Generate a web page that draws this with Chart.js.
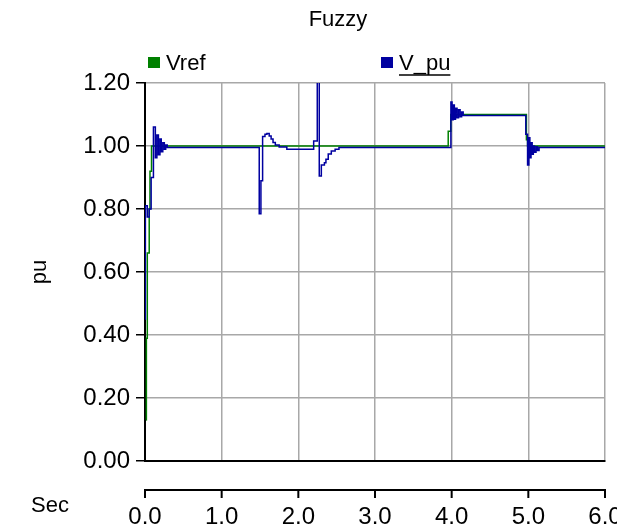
<!DOCTYPE html>
<html>
<head>
<meta charset="utf-8">
<title>Fuzzy</title>
<script src="https://cdn.jsdelivr.net/npm/chart.js@4.4.1/dist/chart.umd.min.js"></script>
<style>
    html, body { margin: 0; padding: 0; background: #fff; }
    canvas { display: block; }
</style>
</head>
<body>
<canvas id="fuzzy-chart" width="617" height="527"></canvas>
<script>
/*===============
data (time in sec, value in pu)
====================*/
const vrefTime  = [0.015, 0.018, 0.03, 0.055, 0.065, 0.085, 3.955, 3.988, 4.975, 4.99, 6.0];
const vrefValue = [0.13, 0.39, 0.66, 0.80, 0.92, 1.00, 1.047, 1.10, 1.02, 1.00, 1.00];

const vpuTime = [
    0.003, 0.005, 0.03, 0.055, 0.08, 0.11, 0.135, 0.155, 0.175, 0.195, 0.212, 0.232, 0.252, 0.27, 0.29,
    1.49, 1.512, 1.534, 1.565, 1.59, 1.62, 1.645, 1.67, 1.70, 1.75, 1.85,
    2.2, 2.247, 2.273, 2.30, 2.34, 2.36, 2.39, 2.43, 2.48, 2.53,
    3.99, 4.005, 4.02, 4.035, 4.05, 4.07, 4.09, 4.11, 4.13, 4.15,
    4.967, 4.99, 5.007, 5.02, 5.035, 5.05, 5.065, 5.08, 5.10, 5.12, 5.14, 6.0
];
const vpuValue = [
    0.45, 0.81, 0.775, 0.80, 0.90, 1.06, 0.963, 1.035, 0.972, 1.022, 0.982, 1.01, 0.99, 1.003, 0.995,
    0.785, 0.89, 1.03, 1.037, 1.04, 1.032, 1.022, 1.011, 1.003, 0.997, 0.99,
    1.016, 1.6, 0.905, 0.94, 0.947, 0.958, 0.975, 0.984, 0.99, 0.995,
    1.14, 1.083, 1.13, 1.085, 1.12, 1.09, 1.115, 1.093, 1.108, 1.097,
    1.037, 0.94, 1.026, 0.963, 1.01, 0.974, 1.0, 0.98, 0.998, 0.986, 0.995, 0.995
];

const xTickValues = [0, 1, 2, 3, 4, 5, 6];
const xTickLabels = ['0.0', '1.0', '2.0', '3.0', '4.0', '5.0', '6.0'];
const yTickValues = [0, 0.2, 0.4, 0.6, 0.8, 1.0, 1.2];
const yTickLabels = ['0.00', '0.20', '0.40', '0.60', '0.80', '1.00', '1.20'];

const seriesNames = ['Vref', 'V_pu'];
const seriesColors = ['rgb(0, 128, 0)', 'rgb(0, 0, 160)'];

const FONT = '"Liberation Sans Narrow", "Liberation Sans", Arial, sans-serif';

/*===============
extra drawing: title, legend, time axis bracket
====================*/
const pscadDecor = {
    id: 'pscadDecor',
    afterDraw(chart) {
        const ctx = chart.ctx;
        const xs = chart.scales.x;
        const area = chart.chartArea;
        ctx.save();

        // time axis bracket under the plot
        ctx.strokeStyle = '#000';
        ctx.lineWidth = 2;
        ctx.beginPath();
        ctx.moveTo(area.left - 1, 490);
        ctx.lineTo(area.right + 1, 490);
        xTickValues.forEach(v => {
            const px = xs.getPixelForValue(v);
            ctx.moveTo(px, 490);
            ctx.lineTo(px, 498);
        });
        ctx.stroke();

        ctx.fillStyle = '#000';
        ctx.font = '22px ' + FONT;
        ctx.textBaseline = 'middle';
        ctx.textAlign = 'center';
        ctx.fillText('Fuzzy', 338, 20);
        ctx.fillText('Sec', 50, 506);

        // legend
        const legendX = [148, 381];
        ctx.textAlign = 'left';
        seriesNames.forEach((name, i) => {
            ctx.fillStyle = seriesColors[i];
            ctx.fillRect(legendX[i], 57, 12, 11);
            ctx.fillStyle = '#000';
            ctx.fillText(name, legendX[i] + 18, 64);
        });
        const w = ctx.measureText(seriesNames[1]).width;
        ctx.lineWidth = 1.5;
        ctx.beginPath();
        ctx.moveTo(legendX[1] + 18, 75);
        ctx.lineTo(legendX[1] + 18 + w, 75);
        ctx.stroke();

        ctx.restore();
    }
};

/*===============
step line chart
====================*/
const fuzzyChart = document.getElementById('fuzzy-chart');
if (fuzzyChart) {
    new Chart(fuzzyChart, {
        type: 'line',
        data: {
            datasets: [
                {
                    label: seriesNames[1],
                    data: vpuTime.map((t, i) => ({ x: t, y: vpuValue[i] })),
                    borderColor: seriesColors[1],
                    borderWidth: 1.5,
                    stepped: 'before',
                    pointRadius: 0,
                    fill: false
                },
                {
                    label: seriesNames[0],
                    data: vrefTime.map((t, i) => ({ x: t, y: vrefValue[i] })),
                    borderColor: seriesColors[0],
                    borderWidth: 1.5,
                    stepped: 'before',
                    pointRadius: 0,
                    fill: false
                }
            ]
        },
        options: {
            responsive: false,
            animation: false,
            layout: {
                padding: { left: 0, top: 83, right: 12, bottom: 0 }
            },
            plugins: {
                legend: { display: false },
                title: { display: false },
                tooltip: { enabled: false }
            },
            scales: {
                x: {
                    type: 'linear',
                    min: 0,
                    max: 6,
                    afterBuildTicks: (scale) => { scale.ticks = xTickValues.map(v => ({ value: v })); },
                    afterFit: (scale) => {
                        scale.height = 66;
                        scale.paddingLeft = 0;
                        scale.paddingRight = 0;
                    },
                    ticks: {
                        callback: (value, index) => xTickLabels[index],
                        color: '#000',
                        font: { family: FONT, size: 24 },
                        padding: 42,
                        maxRotation: 0,
                        autoSkip: false
                    },
                    grid: {
                        color: '#a8a8a8',
                        lineWidth: 1.5,
                        drawTicks: false
                    },
                    border: { color: '#000', width: 2 }
                },
                y: {
                    min: 0,
                    max: 1.2,
                    afterBuildTicks: (scale) => { scale.ticks = yTickValues.map(v => ({ value: v })); },
                    afterFit: (scale) => { scale.width = 145; },
                    ticks: {
                        callback: (value, index) => yTickLabels[index],
                        color: '#000',
                        font: { family: FONT, size: 24 },
                        padding: 6,
                        autoSkip: false
                    },
                    grid: {
                        color: '#a8a8a8',
                        lineWidth: 1.5,
                        tickColor: '#000',
                        tickLength: 9
                    },
                    border: { color: '#000', width: 2 },
                    title: {
                        display: true,
                        text: 'pu',
                        color: '#000',
                        font: { family: FONT, size: 22 },
                        padding: { top: 27, bottom: 0 }
                    }
                }
            }
        },
        plugins: [pscadDecor]
    });
}
</script>
</body>
</html>
